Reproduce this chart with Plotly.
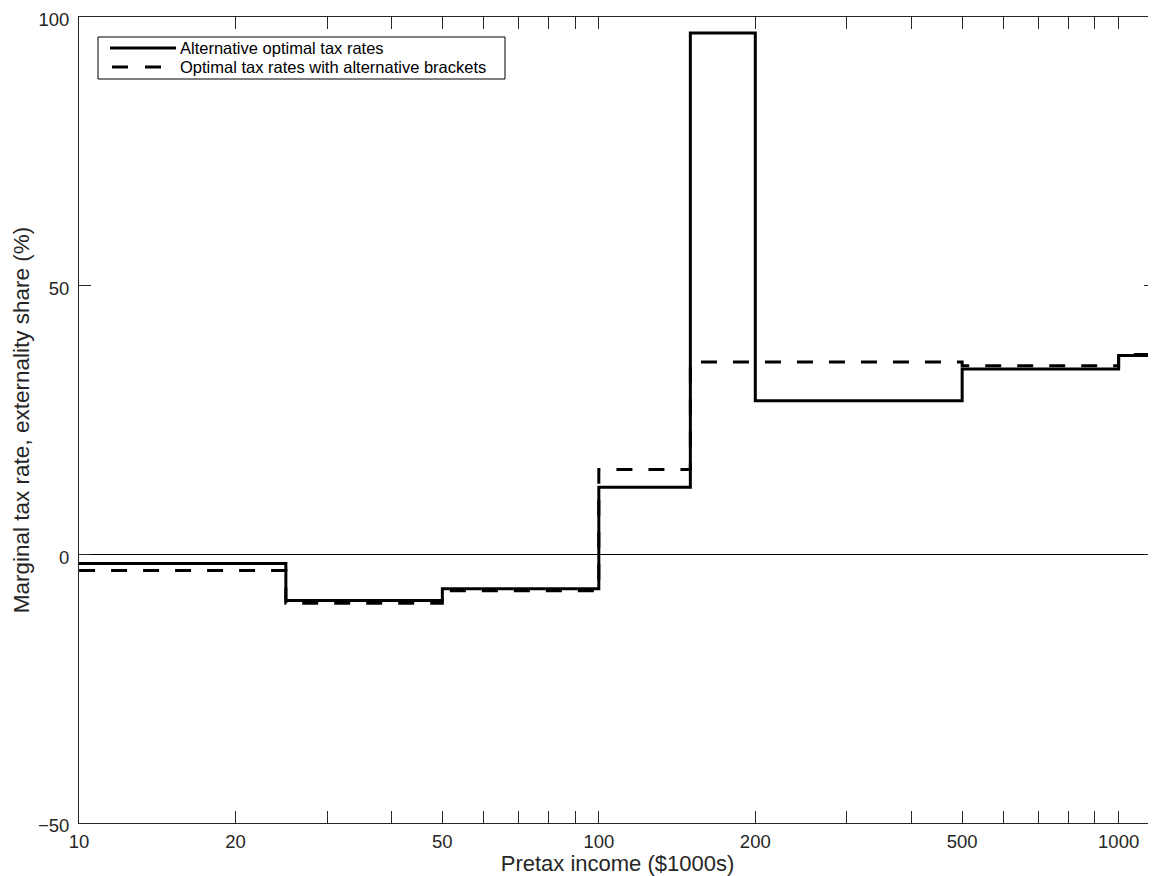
import plotly.graph_objects as go
import math

# Data
solid_edges = [10, 25, 50, 100, 150, 200, 500, 1000, 1180]
solid_rates = [-1.7, -8.6, -6.4, 12.5, 97.0, 28.6, 34.5, 37.0]
dashed_edges = [10, 25, 50, 100, 150, 500, 1000, 1180]
dashed_rates = [-3.0, -9.1, -6.8, 15.8, 35.8, 35.1, 37.2]

series_names = ["Alternative optimal tax rates",
                "Optimal tax rates with alternative brackets"]

x_tickvals = [10, 20, 30, 40, 50, 60, 70, 80, 90, 100, 200, 300, 400, 500, 600, 700, 800, 900, 1000]
x_labeled = {10: "10", 20: "20", 50: "50", 100: "100", 200: "200", 500: "500", 1000: "1000"}
y_tickvals = [-50, 0, 50, 100]

FONT = "Liberation Sans, Arial, Helvetica, sans-serif"
AX = "#262626"
DASH = "16px,16px"

fig = go.Figure()
fig.add_trace(go.Scatter(
    x=solid_edges, y=solid_rates + [solid_rates[-1]],
    mode="lines", line=dict(shape="hv", color="black", width=3),
    name=series_names[0], showlegend=False))
fig.add_trace(go.Scatter(
    x=dashed_edges, y=dashed_rates + [dashed_rates[-1]],
    mode="lines", line=dict(shape="hv", color="black", width=3, dash=DASH),
    name=series_names[1], showlegend=False))

# Manual legend (MATLAB-style box) in paper coordinates.
# Page pixels: plot area spans x 79..1156, y 17..823 (page has an 8px body margin).
def px(xp):
    return (xp - 79.0) / (1156.0 - 79.0)
def py(yp):
    return (823.0 - yp) / (823.0 - 17.0)

ROW1, ROW2 = 48, 67
shapes = [
    dict(type="rect", xref="paper", yref="paper",
         x0=px(98), x1=px(505), y0=py(79), y1=py(37),
         line=dict(color="black", width=1), fillcolor="white", layer="above"),
    dict(type="line", xref="paper", yref="paper",
         x0=px(110), x1=px(176), y0=py(ROW1), y1=py(ROW1),
         line=dict(color="black", width=3), layer="above"),
    dict(type="line", xref="paper", yref="paper",
         x0=px(112), x1=px(176), y0=py(ROW2), y1=py(ROW2),
         line=dict(color="black", width=3, dash="16px,17px"), layer="above"),
]
annotations = [
    dict(xref="paper", yref="paper", x=px(179), y=py(ROW1), xanchor="left", yanchor="middle",
         text=series_names[0], showarrow=False, borderpad=0,
         font=dict(size=16.5, family=FONT, color="black")),
    dict(xref="paper", yref="paper", x=px(179), y=py(ROW2), xanchor="left", yanchor="middle",
         text=series_names[1], showarrow=False, borderpad=0,
         font=dict(size=16.5, family=FONT, color="black")),
]

fig.update_layout(
    width=1148, height=868,
    margin=dict(l=71, r=0, t=9, b=53),
    paper_bgcolor="white", plot_bgcolor="white",
    font=dict(family=FONT, size=18.5, color="black"),
    showlegend=False,
    shapes=shapes, annotations=annotations,
    xaxis=dict(type="log", range=[1, math.log10(1180)],
               tickvals=x_tickvals,
               ticktext=[x_labeled.get(v, "") for v in x_tickvals],
               ticks="inside", ticklen=12, tickwidth=1, tickcolor=AX,
               showline=True, linecolor=AX, linewidth=1, mirror="ticks",
               showgrid=False, zeroline=False, automargin=False,
               ticklabelstandoff=2, ticklabeloverflow="allow",
               tickfont=dict(size=18.5, family=FONT, color="#262626"),
               title=dict(text="Pretax income ($1000s)", font=dict(size=22, family=FONT, color="#262626"), standoff=0)),
    yaxis=dict(range=[-50, 100], tickvals=y_tickvals,
               ticks="inside", ticklen=12, tickwidth=1, tickcolor=AX,
               showline=True, linecolor=AX, linewidth=1, mirror="ticks",
               showgrid=False, zeroline=True, zerolinecolor="black", zerolinewidth=1,
               automargin=False, ticklabelstandoff=5, ticklabelshift=3,
               ticklabeloverflow="allow",
               tickfont=dict(size=18.5, family=FONT, color="#262626"),
               title=dict(text="Marginal tax rate, externality share (%)", font=dict(size=22.5, family=FONT, color="#262626"), standoff=2)),
)

fig.write_html("out.html")
